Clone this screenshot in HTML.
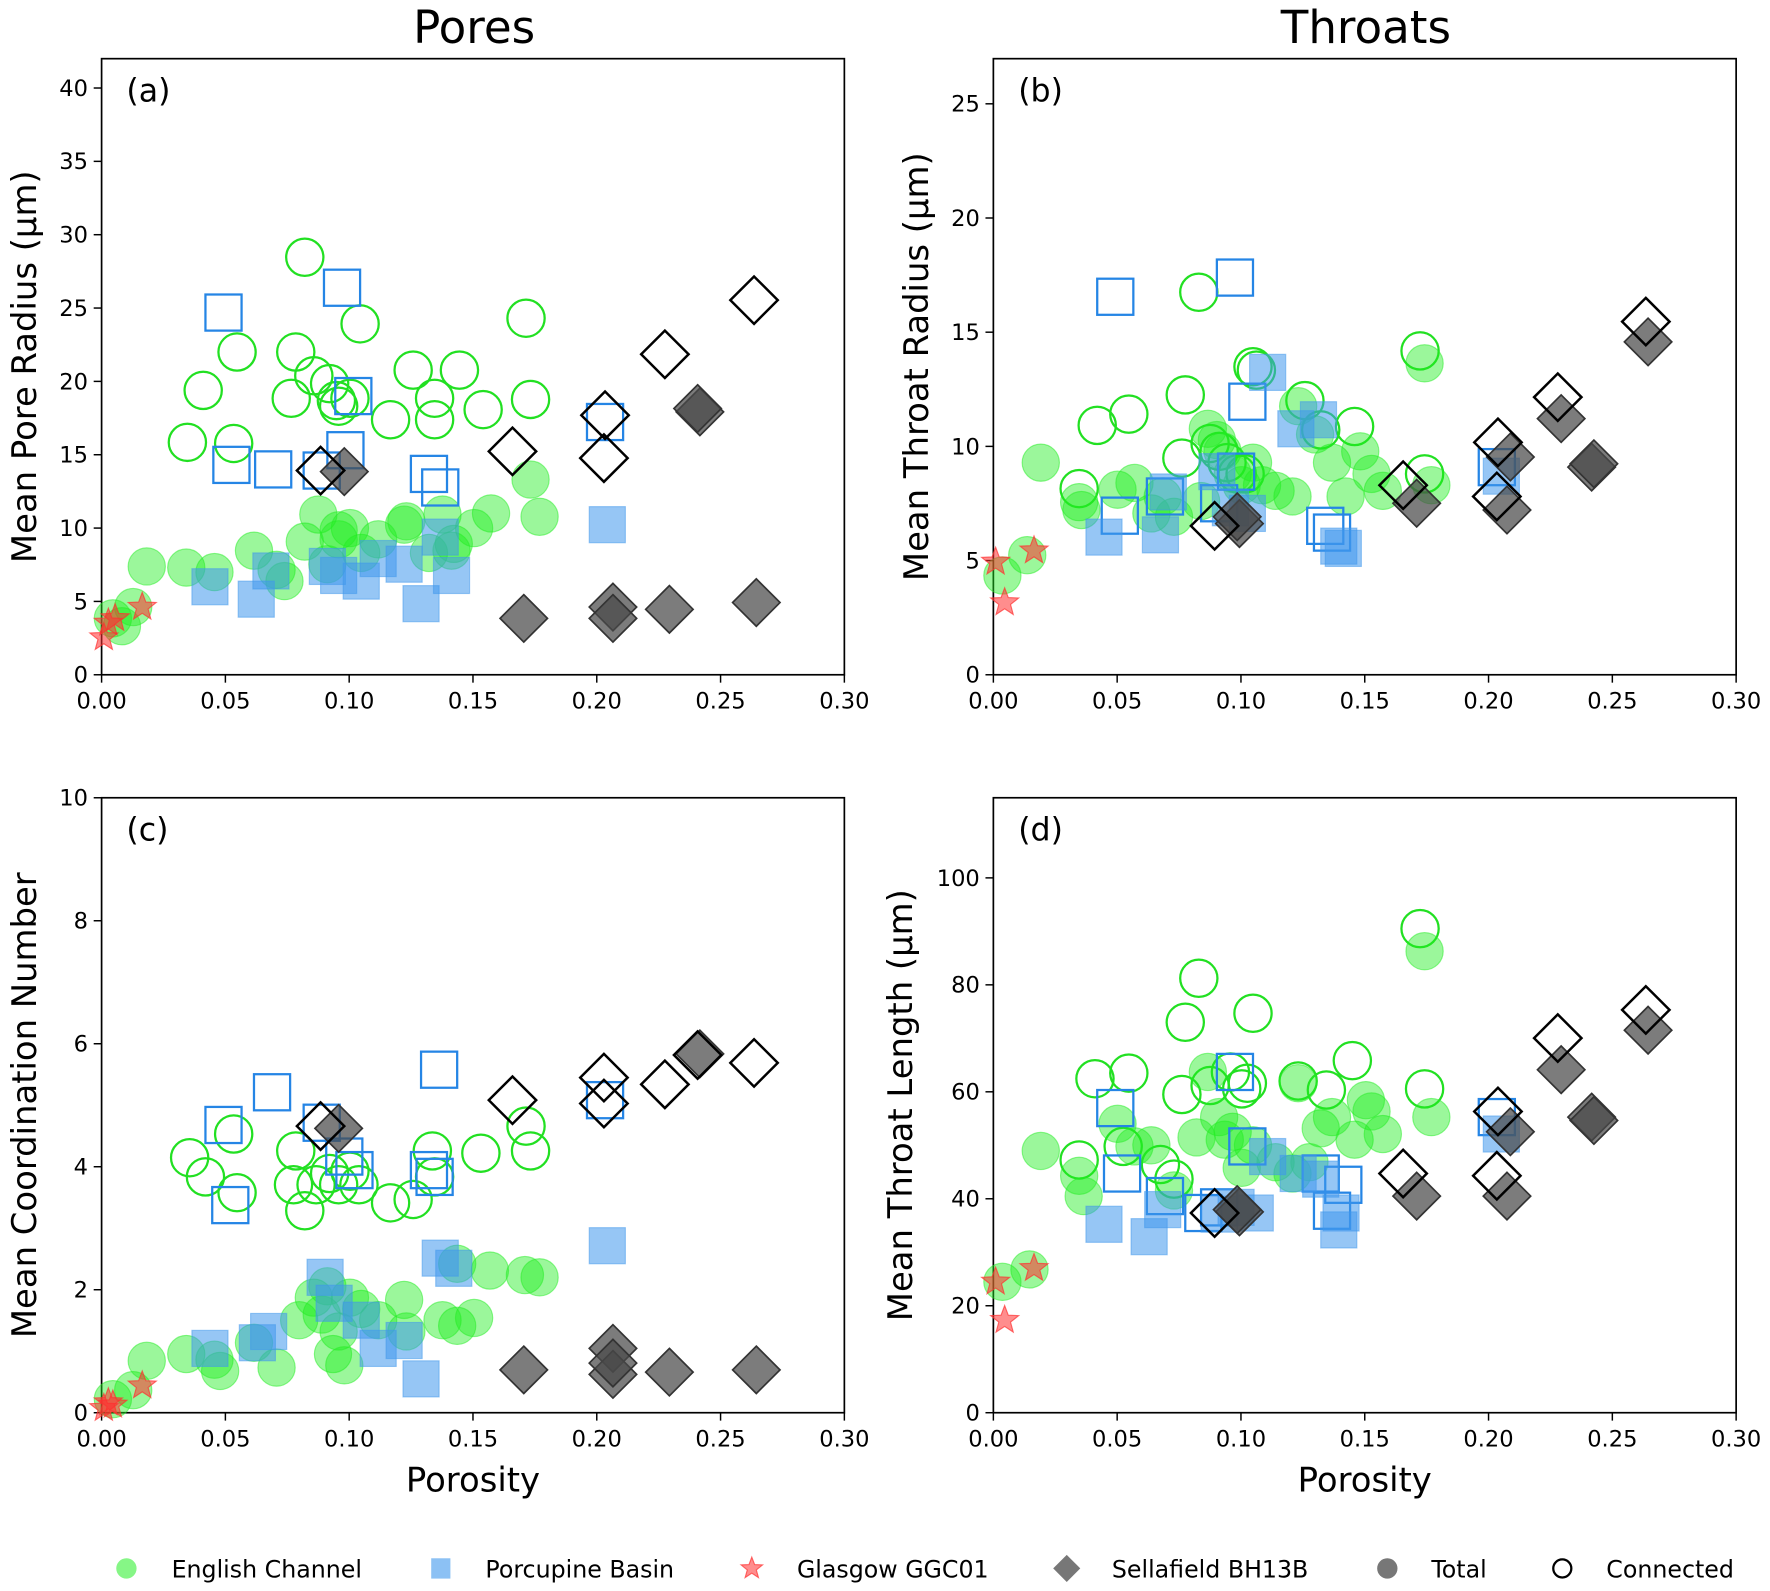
<!DOCTYPE html>
<html><head><meta charset="utf-8"><style>
html,body{margin:0;padding:0;background:#fff;}
svg{display:block;font-family:"DejaVu Sans","Liberation Sans",sans-serif;}
</style></head><body>
<svg id="s" width="1770" height="1591" viewBox="0 0 1568 1410" preserveAspectRatio="none" xmlns="http://www.w3.org/2000/svg">
<rect width="1568" height="1410" fill="#fff"/>
<g id="g"></g>
</svg>
<script>
var NS="http://www.w3.org/2000/svg",G=document.getElementById('g');
function el(t,a,txt){var e=document.createElementNS(NS,t);for(var k in a)e.setAttribute(k,a[k]);if(txt!=null)e.textContent=txt;G.appendChild(e);return e;}
var GF={fill:"#22ee22","fill-opacity":0.45,stroke:"#22ee22","stroke-opacity":0.5},GO={fill:"none",stroke:"#22e022","stroke-width":2};
var BF={fill:"#3f97ec","fill-opacity":0.55,stroke:"#3f97ec","stroke-opacity":0.5},BO={fill:"none",stroke:"#2585e5","stroke-width":2};
var DF={fill:"#4a4a4a","fill-opacity":0.72,stroke:"#333","stroke-width":1.5},DO={fill:"none",stroke:"#000","stroke-width":2.2};
var SF={fill:"#ff3030","fill-opacity":0.55,stroke:"#ff3030","stroke-opacity":0.7};
function circ(p,st){p.forEach(function(q){var a={cx:q[0],cy:q[1],r:16.5};for(var k in st)a[k]=st[k];el('circle',a);});}
function sq(p,st){p.forEach(function(q){var a={x:q[0]-16,y:q[1]-16,width:32,height:32};for(var k in st)a[k]=st[k];el('rect',a);});}
function dia(p,st){p.forEach(function(q){var x=q[0],y=q[1],r=21;var a={points:(x)+","+(y-r)+" "+(x+r)+","+y+" "+x+","+(y+r)+" "+(x-r)+","+y};for(var k in st)a[k]=st[k];el('polygon',a);});}
function star(p,st,R){R=R||13;p.forEach(function(q){var pts=[];for(var i=0;i<10;i++){var r=i%2?R*0.42:R;var an=-Math.PI/2+i*Math.PI/5;pts.push((q[0]+r*Math.cos(an)).toFixed(1)+","+(q[1]+r*Math.sin(an)).toFixed(1));}var a={points:pts.join(" ")};for(var k in st)a[k]=st[k];el('polygon',a);});}
function panel(x0,yTop,yB,yMaxPix,vmax,step,ylab,lab,xl){
 var w=658;
 el('rect',{x:x0,y:yTop,width:w,height:yB-yTop,fill:"none",stroke:"#000","stroke-width":1.5});
 for(var i=0;i<=6;i++){var x=x0+w*i/6;el('line',{x1:x,y1:yB,x2:x,y2:yB+7,stroke:"#000","stroke-width":1.3});
  el('text',{x:x,y:yB+30,"font-size":20,"text-anchor":"middle"},(i*0.05).toFixed(2));}
 for(var v=0;v<=vmax+1e-9;v+=step){var y=yB-(yB-yMaxPix)*v/vmax;el('line',{x1:x0-7,y1:y,x2:x0,y2:y,stroke:"#000","stroke-width":1.3});
  el('text',{x:x0-12,y:y+7,"font-size":20,"text-anchor":"end"},String(v));}
 el('text',{x:x0+22,y:yTop+38,"font-size":28},lab);
 var cy=(yTop+yB)/2;
 el('text',{x:0,y:0,"font-size":30,"text-anchor":"middle",transform:"translate("+ylab[1]+","+cy+") rotate(-90)"},ylab[0]);
 if(xl)el('text',{x:x0+w/2,y:yB+70,"font-size":30,"text-anchor":"middle"},"Porosity");
}
el('text',{x:420,y:38,"font-size":40,"text-anchor":"middle"},"Pores");
el('text',{x:1210,y:38,"font-size":40,"text-anchor":"middle"},"Throats");
panel(90,52,598,78,40,5,["Mean Pore Radius (µm)",32],"(a)",false);
panel(880,52,598,92,25,5,["Mean Throat Radius (µm)",822],"(b)",false);
panel(90,707,1252,707,10,2,["Mean Coordination Number",32],"(c)",true);
panel(880,707,1252,778,100,20,["Mean Throat Length (µm)",808],"(d)",true);

circ([[270,228],[180,346],[210,312],[262,312],[166,392],[207,393],[278,333],[258,353],[292,340],[300,360],[310,353],[319,287],[346,372],[366,328],[385,353],[385,372],[407,328],[428,363],[466,282],[470,354],[298,355]],GO);
circ([[130,502],[165,503],[190,507],[225,488],[245,505],[252,515],[270,480],[282,456],[300,478],[310,468],[290,500],[320,490],[335,478],[360,462],[358,465],[392,456],[402,482],[420,468],[435,455],[470,425],[478,458],[100,548],[118,538],[108,555],[380,490],[400,488],[300,470]],GF);
sq([[198,277],[303,255],[313,351],[306,399],[205,412],[242,416],[285,417],[380,420],[390,432],[536,374]],BO);
sq([[186,520],[227,531],[240,506],[290,502],[300,510],[320,515],[335,495],[358,500],[373,535],[390,476],[400,510],[538,465]],BF);
star([[96,552],[92,565],[126,538],[102,548]],SF);
dia([[305,418],[620,365],[618,362],[464,548],[543,538],[543,548],[593,540],[670,534]],DF);
dia([[284,417],[454,400],[535,406],[536,368],[589,314],[668,266]],DO);

circ([[1062,259],[972,377],[1000,367],[1050,350],[1047,406],[1072,393],[1080,400],[1087,410],[1110,325],[1113,328],[1156,355],[1170,381],[1200,378],[1258,311],[1262,420],[956,433],[1096,420],[1103,420]],GO);
circ([[922,410],[956,445],[958,452],[990,434],[1005,428],[1040,458],[1064,444],[1070,380],[1078,390],[1083,400],[1092,420],[1100,430],[1110,410],[1118,430],[1130,435],[1145,440],[1150,360],[1165,385],[1180,410],[1192,440],[1205,400],[1215,420],[1225,435],[1262,322],[1268,430],[888,510],[910,492],[1030,440],[1020,455]],GF);
sq([[988,263],[1094,246],[1105,356],[1095,418],[992,457],[1032,440],[1080,446],[1174,466],[1180,472],[1326,414]],BO);
sq([[978,476],[1028,474],[1035,436],[1078,418],[1090,450],[1105,455],[1123,330],[1148,380],[1168,372],[1186,484],[1190,486],[1330,422]],BF);
star([[882,498],[890,534],[916,488]],SF);
dia([[1098,464],[1096,458],[1255,446],[1335,452],[1338,405],[1383,371],[1410,414],[1412,411],[1460,303]],DF);
dia([[1076,466],[1243,430],[1326,440],[1327,392],[1380,352],[1458,285]],DO);

circ([[168,1026],[182,1043],[207,1005],[210,1057],[262,1020],[270,1073],[280,1050],[292,1040],[300,1050],[310,1038],[318,1050],[346,1066],[366,1063],[383,1020],[385,1043],[426,1022],[466,998],[470,1020],[260,1050]],GO);
circ([[130,1206],[165,1200],[190,1205],[195,1215],[225,1190],[245,1212],[265,1170],[278,1150],[285,1165],[295,1200],[305,1210],[310,1150],[320,1160],[335,1170],[358,1152],[392,1170],[405,1175],[420,1168],[434,1126],[465,1130],[478,1132],[100,1240],[118,1232],[300,1180],[360,1180],[405,1120],[290,1140]],GF);
sq([[198,997],[241,968],[285,995],[305,1025],[314,1037],[380,1037],[389,948],[204,1068],[536,975],[385,1043]],BO);
sq([[186,1195],[228,1190],[238,1180],[288,1132],[296,1155],[320,1170],[335,1195],[358,1188],[373,1222],[390,1115],[402,1124],[538,1104]],BF);
star([[92,1248],[96,1243],[126,1228],[100,1245]],SF);
dia([[300,1000],[620,934],[464,1214],[543,1195],[543,1218],[593,1216],[670,1214],[543,1208]],DF);
dia([[284,998],[454,975],[535,955],[535,978],[589,961],[668,942],[618,935]],DO);

circ([[970,956],[1000,951],[1062,867],[1050,906],[1047,970],[1072,962],[1090,950],[1100,965],[1110,898],[1105,960],[1150,958],[1175,966],[1198,940],[1258,823],[1262,965],[956,1028],[1028,1032],[995,1016],[1040,1045]],GO);
circ([[922,1020],[956,1042],[960,1060],[990,996],[1005,1016],[1040,1055],[1060,1008],[1070,950],[1080,990],[1092,1003],[1100,1035],[1110,1015],[1130,1030],[1145,1040],[1160,1030],[1150,960],[1170,1000],[1180,990],[1200,1010],[1210,975],[1215,985],[1225,1005],[1262,843],[1268,990],[888,1136],[912,1125],[1085,1010],[1020,1015]],GF);
sq([[988,982],[994,1040],[1032,1060],[1094,950],[1105,1016],[1080,1070],[1170,1040],[1180,1073],[1326,990],[1190,1050],[1066,1075]],BO);
sq([[978,1085],[1018,1096],[1030,1072],[1080,1076],[1095,1070],[1112,1075],[1123,1025],[1150,1040],[1170,1045],[1186,1090],[1188,1075],[1330,1005]],BF);
star([[882,1136],[890,1170],[916,1124]],SF);
dia([[1098,1074],[1096,1072],[1255,1060],[1335,1060],[1338,1003],[1383,948],[1410,990],[1412,993],[1460,913]],DF);
dia([[1076,1075],[1243,1040],[1326,1042],[1327,985],[1380,920],[1458,895]],DO);

var LY=1390;
el('circle',{cx:112,cy:LY,r:9,fill:"#22ee22","fill-opacity":0.55});
el('rect',{x:382,y:LY-9,width:17,height:18,fill:"#3f97ec","fill-opacity":0.6});
star([[666,LY]],SF,10);
el('polygon',{points:"945,1378 957,1390 945,1402 933,1390",fill:"#4a4a4a","fill-opacity":0.75});
el('circle',{cx:1229,cy:LY,r:9,fill:"#4a4a4a","fill-opacity":0.75});
el('circle',{cx:1384,cy:LY,r:8,fill:"none",stroke:"#000","stroke-width":2});
[["English Channel",152],["Porcupine Basin",430],["Glasgow GGC01",706],["Sellafield BH13B",985],["Total",1268],["Connected",1423]].forEach(function(t){el('text',{x:t[1],y:LY+8,"font-size":21},t[0]);});
</script>
</body></html>
